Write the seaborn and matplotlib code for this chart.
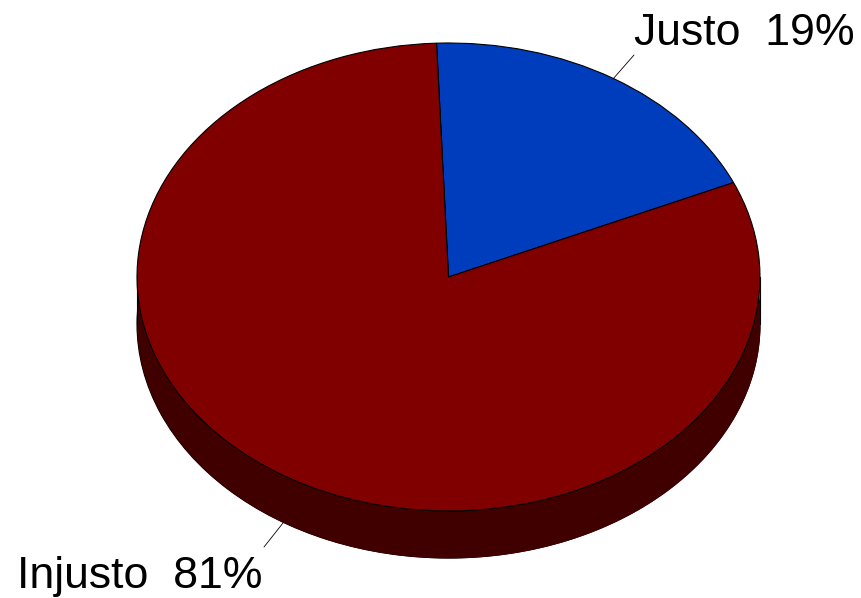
import numpy as np
import matplotlib
matplotlib.use("Agg")
import matplotlib.pyplot as plt
import seaborn as sns

categories = ["Justo", "Injusto"]
values = [19, 81]
top_colors = ["#003DBD", "#800000"]
side_color = "#400000"

sns.set_theme(style="white")
plt.rcParams["font.family"] = ["Liberation Sans", "DejaVu Sans"]

W, H = 861, 598
cx, cy, rx, ry, depth = 448.5, 277, 311.5, 234, 47
fig, ax = plt.subplots(figsize=(W / 100, H / 100), dpi=100)
fig.subplots_adjust(0, 0, 1, 1)

d = depth / ry
edge = dict(edgecolor="black", linewidth=0.8)

# side wall: lower pie plus the band that joins it to the top face
ax.pie([1], colors=[side_color], center=(0, -d), radius=1, wedgeprops=edge)
t = np.linspace(np.pi, 2 * np.pi, 200)
ax.fill_between(np.cos(t), np.sin(t), np.sin(t) - d, color=side_color, lw=0, zorder=1.5)
ax.plot([-1, -1], [0, -d], color="black", lw=0.8, zorder=1.6)
ax.plot([1, 1], [0, -d], color="black", lw=0.8, zorder=1.6)

# top face
wedges, _ = ax.pie(values, colors=top_colors, startangle=92.2, counterclock=False,
                   radius=1, wedgeprops=edge)
for w in wedges:
    w.set_zorder(2)

ax.set_aspect("auto")
ax.set_xlim(-cx / rx, (W - cx) / rx)
ax.set_ylim((cy - H) / ry, cy / ry)
ax.axis("off")


def px(x, y):
    return (x - cx) / rx, (cy - y) / ry


fs = 32.1
for i, (lx, ly, a, b) in enumerate([(634, 33.5, (634, 55), (613, 79)),
                                    (17, 576.5, (283, 523), (264, 547))]):
    ax.text(*px(lx, ly), f"{categories[i]}  {values[i]}%", fontsize=fs, color="black",
            ha="left", va="center", zorder=5)
    ax.plot(*zip(px(*a), px(*b)), color="black", lw=0.6, zorder=4)

fig.savefig("out.png", dpi=100)
